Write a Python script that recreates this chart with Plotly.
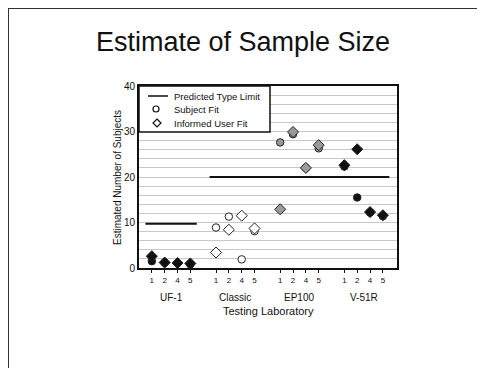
import plotly.graph_objects as go

# ---- data ----
products = ["UF-1", "Classic", "EP100", "V-51R"]
labs = ["1", "2", "4", "5"]
subject_fit = {
    "UF-1":    [1.5, 1.2, 1.1, 0.8],
    "Classic": [8.9, 11.3, 1.9, 8.1],
    "EP100":   [27.6, 29.4, 22.0, 26.3],
    "V-51R":   [22.3, 15.5, 12.2, 11.4],
}
informed_user_fit = {
    "UF-1":    [2.6, 1.2, 1.1, 1.0],
    "Classic": [3.4, 8.4, 11.5, 8.7],
    "EP100":   [12.9, 29.9, 22.0, 27.0],
    "V-51R":   [22.6, 26.1, 12.3, 11.6],
}
predicted_limit = {"UF-1": 9.7, "Classic": 20, "EP100": 20, "V-51R": 20}
legend_names = ["Predicted Type Limit", "Subject Fit", "Informed User Fit"]
product_fill = {"UF-1": "#111111", "Classic": "#ffffff", "EP100": "#9a9a9a", "V-51R": "#111111"}
y_ticks = [0, 10, 20, 30, 40]

# numeric positions: 4 labs per product, one empty slot between groups
positions = {}
for gi, p in enumerate(products):
    positions[p] = [gi * 5 + 1 + k for k in range(len(labs))]

fig = go.Figure()

# predicted limit lines (merge consecutive products with the same limit)
segments = []
for p in products:
    v = predicted_limit[p]
    if segments and segments[-1][2] == v:
        segments[-1][1] = p
    else:
        segments.append([p, p, v])
for a, b, v in segments:
    fig.add_trace(go.Scatter(
        x=[min(positions[a]) - 0.5, max(positions[b]) + 0.5], y=[v, v],
        mode="lines", line=dict(color="#111111", width=2),
        name=legend_names[0], showlegend=False, hoverinfo="skip"))

for p in products:
    fig.add_trace(go.Scatter(
        x=positions[p], y=subject_fit[p], mode="markers", name=legend_names[1],
        marker=dict(symbol="circle", size=7.5, color=product_fill[p],
                    line=dict(color="#222222", width=1)),
        showlegend=False))
    fig.add_trace(go.Scatter(
        x=positions[p], y=informed_user_fit[p], mode="markers", name=legend_names[2],
        marker=dict(symbol="diamond", size=8.5, color=product_fill[p],
                    line=dict(color="#222222", width=1)),
        showlegend=False))

tickvals = [x for p in products for x in positions[p]]
ticktext = [l for p in products for l in labs]

# page offset (browser body margin)
OFF = 8
W, H = 485, 368
pl, pr, pt, pb = 139, 397, 86, 268          # plot area in page pixels
ml, mt = pl - OFF, pt - OFF
mr, mb = W - (pr - OFF), H - (pb - OFF)
pw, ph = pr - pl, pb - pt

def px_x(px):
    return (px - pl) / pw

def px_y(py):
    return (pb - py) / ph

font = "Liberation Sans, Arial, sans-serif"
ink = "#111111"

annotations = []
for p in products:
    cx = sum(positions[p]) / len(positions[p])
    annotations.append(dict(x=cx, y=px_y(297), xref="x", yref="paper", text=p,
                            showarrow=False, font=dict(size=10, color=ink, family=font),
                            xanchor="center", yanchor="middle"))
annotations.append(dict(x=px_x(268), y=px_y(311), xref="paper", yref="paper",
                        text="Testing Laboratory", showarrow=False,
                        font=dict(size=11, color=ink, family=font),
                        xanchor="center", yanchor="middle"))
annotations.append(dict(x=px_x(117), y=px_y(178), xref="paper", yref="paper",
                        text="Estimated Number of Subjects", showarrow=False, textangle=-90,
                        font=dict(size=10, color=ink, family=font),
                        xanchor="center", yanchor="middle"))

# custom compact legend
leg_rows = [96, 109, 123]
for name, ry in zip(legend_names, leg_rows):
    annotations.append(dict(x=px_x(172), y=px_y(ry), xref="paper", yref="paper", text=name,
                            showarrow=False, font=dict(size=9.5, color=ink, family=font),
                            xanchor="left", yanchor="middle"))

shapes = [
    dict(type="line", xref="paper", yref="paper", x0=px_x(OFF), y0=px_y(OFF - 1), x1=px_x(OFF), y1=px_y(400),
         line=dict(color="#333", width=2)),
    dict(type="line", xref="paper", yref="paper", x0=px_x(OFF - 1), y0=px_y(OFF), x1=px_x(520), y1=px_y(OFF),
         line=dict(color="#333", width=2)),
    # legend box
    dict(type="rect", xref="paper", yref="paper", x0=0, y0=px_y(132), x1=px_x(270), y1=1,
         fillcolor="white", line=dict(color=ink, width=1.5), layer="above"),
    dict(type="line", xref="paper", yref="paper", x0=px_x(148), y0=px_y(leg_rows[0]),
         x1=px_x(168), y1=px_y(leg_rows[0]), line=dict(color=ink, width=1.5), layer="above"),
    dict(type="circle", xref="paper", yref="paper", xsizemode="pixel", ysizemode="pixel",
         xanchor=px_x(156), yanchor=px_y(leg_rows[1]), x0=-3, x1=3, y0=-3, y1=3,
         fillcolor="white", line=dict(color=ink, width=1.2), layer="above"),
    dict(type="path", xref="paper", yref="paper", xsizemode="pixel", ysizemode="pixel",
         xanchor=px_x(157), yanchor=px_y(leg_rows[2]),
         path="M 0 4 L 4 0 L 0 -4 L -4 0 Z",
         fillcolor="white", line=dict(color=ink, width=1.2), layer="above"),
]

fig.update_layout(
    width=W, height=H,
    margin=dict(l=ml, r=mr, t=mt, b=mb),
    paper_bgcolor="white", plot_bgcolor="white",
    title=dict(text="Estimate of Sample Size", x=(243 - OFF) / W, xref="container", xanchor="center",
               y=1 - (42 - OFF) / H, yanchor="middle",
               font=dict(size=27, color=ink, family=font)),
    xaxis=dict(range=[0, 20.1], tickvals=tickvals, ticktext=ticktext, ticks="outside",
               ticklen=3, tickcolor=ink, tickfont=dict(size=8, color=ink, family=font),
               showgrid=False, zeroline=False, showline=True, linecolor=ink, linewidth=2,
               mirror=True),
    yaxis=dict(range=[0, 40], tickvals=y_ticks, ticks="",
               tickfont=dict(size=10, color=ink, family=font),
               showgrid=True, gridcolor="#c8c8c8", gridwidth=1.2,
               minor=dict(dtick=2, showgrid=True, gridcolor="#c8c8c8", gridwidth=1.2),
               zeroline=False, showline=True, linecolor=ink, linewidth=2,
               mirror=True),
    annotations=annotations,
    shapes=shapes,
    showlegend=False,
)

fig.write_html("out.html")
